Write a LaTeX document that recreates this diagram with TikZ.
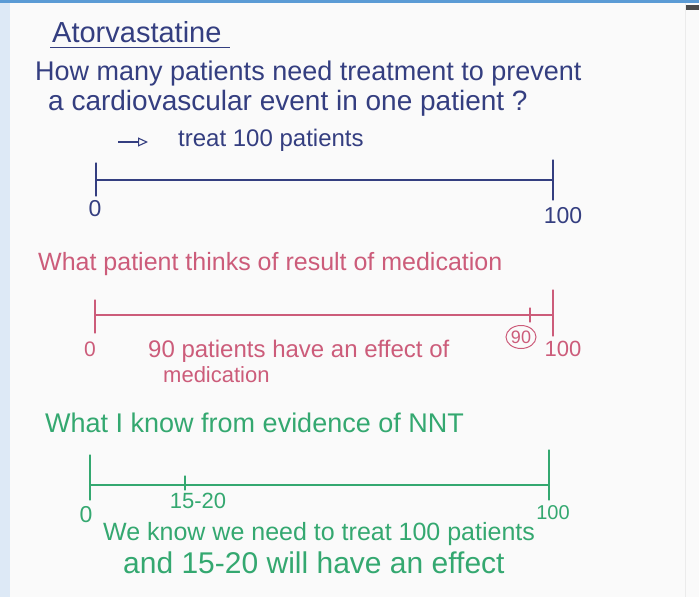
\documentclass[tikz,border=0pt]{standalone}
\usepackage{fontspec}
\setmainfont{Liberation Sans}
\usetikzlibrary{arrows.meta, shapes.geometric}

\definecolor{inkblue}{RGB}{52,62,128}
\definecolor{inkred}{RGB}{204,92,122}
\definecolor{inkgreen}{RGB}{52,168,112}
\definecolor{topbar}{RGB}{91,155,213}
\definecolor{sidestrip}{RGB}{221,233,246}

\begin{document}
\begin{tikzpicture}[x=1pt, y=-1pt,
        every node/.style={inner sep=0pt, anchor=base west},
        blueink/.style={text=inkblue, font=\fontsize{27}{31}\selectfont},
        redink/.style={text=inkred, font=\fontsize{24}{28}\selectfont},
        greenink/.style={text=inkgreen, font=\fontsize{25}{29}\selectfont},
        numlabel/.style={anchor=base, font=\fontsize{23}{27}\selectfont},
        axisline/.style={line width=1.1pt, line cap=round}
    ]

    % page
    \useasboundingbox (0,0) rectangle (699,597);
    \fill[white!98!black] (0,0) rectangle (699,597);
    \fill[sidestrip] (0,0) rectangle (10,597);
    \fill[black!2] (685,3) rectangle (699,597);
    \draw[black!8] (685,3) -- (685,597);
    \fill[black!70] (686,5) rectangle (699,10);
    \fill[topbar] (0,0) rectangle (699,3);

    % question
    \node[blueink, font=\fontsize{29}{33}\selectfont] (title) at (52,42) {Atorvastatine};
    \draw[inkblue, line width=1pt] (title.base west) ++(-2,5) -- ++(180,0);
    \node[blueink] (qone) at (35,80) {How many patients need treatment to prevent};
    \node[blueink, font=\fontsize{28}{32}\selectfont] (qtwo) at (48,110) {a cardiovascular event in one patient ?};
    \coordinate (arrstart) at (118,142);
    \node[blueink, font=\fontsize{24}{28}\selectfont] (answer) at (178,146) {treat 100 patients};
    \draw[inkblue, line width=1.1pt, -{Triangle[open, length=10pt, width=9pt]}] (arrstart) -- ([xshift=-30pt]answer.west |- arrstart);

    % blue axis
    \coordinate (bzero) at (96,180);
    \coordinate (bhundred) at (553,180);
    \draw[axisline, inkblue] (bzero) -- (bhundred);
    \draw[axisline, inkblue] (96,163) -- (96,196);
    \draw[axisline, inkblue] (553,160) -- (553,200);
    \node[numlabel, text=inkblue] (bzerolbl) at (95,216) {0};
    \node[numlabel, text=inkblue] (bhundredlbl) at (563,223) {100};

    % patient view
    \node[redink, font=\fontsize{25}{29}\selectfont] (redtitle) at (38,270) {What patient thinks of result of medication};
    \coordinate (rzero) at (95,315);
    \coordinate (rhundred) at (553,315);
    \draw[axisline, inkred] (rzero) -- (rhundred);
    \draw[axisline, inkred] (95,300) -- (95,333);
    \draw[axisline, inkred] (553,290) -- (553,336);
    \draw[axisline, inkred] (530,308) -- (530,322);
    \node[numlabel, text=inkred, font=\fontsize{21}{25}\selectfont] (rzerolbl) at (90,356) {0};
    \node[redink] (redeffect) at (148,357) {90 patients have an effect of};
    \node[redink, font=\fontsize{22}{26}\selectfont] (redmed) at (163,382) {medication};
    \node[anchor=center, ellipse, draw=inkred, line width=1pt, minimum width=30pt, minimum height=23pt,
        text=inkred, font=\fontsize{18}{20}\selectfont] (ninety) at (521,337) {90};
    \node[numlabel, text=inkred, font=\fontsize{22}{26}\selectfont] (rhundredlbl) at (563,356) {100};

    % evidence
    \node[greenink, font=\fontsize{27}{31}\selectfont] (greentitle) at (45,432) {What I know from evidence of NNT};
    \coordinate (gzero) at (90,485);
    \coordinate (ghundred) at (549,485);
    \draw[axisline, inkgreen] (gzero) -- (ghundred);
    \draw[axisline, inkgreen] (90,455) -- (90,500);
    \draw[axisline, inkgreen] (549,450) -- (549,500);
    \draw[axisline, inkgreen] (185,476) -- (185,490);
    \node[numlabel, text=inkgreen, font=\fontsize{22}{26}\selectfont] (grange) at (198,508) {15-20};
    \node[numlabel, text=inkgreen] (gzerolbl) at (86,522) {0};
    \node[numlabel, text=inkgreen, font=\fontsize{20}{24}\selectfont] (ghundredlbl) at (553,519) {100};
    \node[greenink] (gknow) at (103,540) {We know we need to treat 100 patients};
    \node[greenink, font=\fontsize{30}{34}\selectfont] (geffect) at (123,573) {and 15-20 will have an effect};

\end{tikzpicture}
\end{document}
